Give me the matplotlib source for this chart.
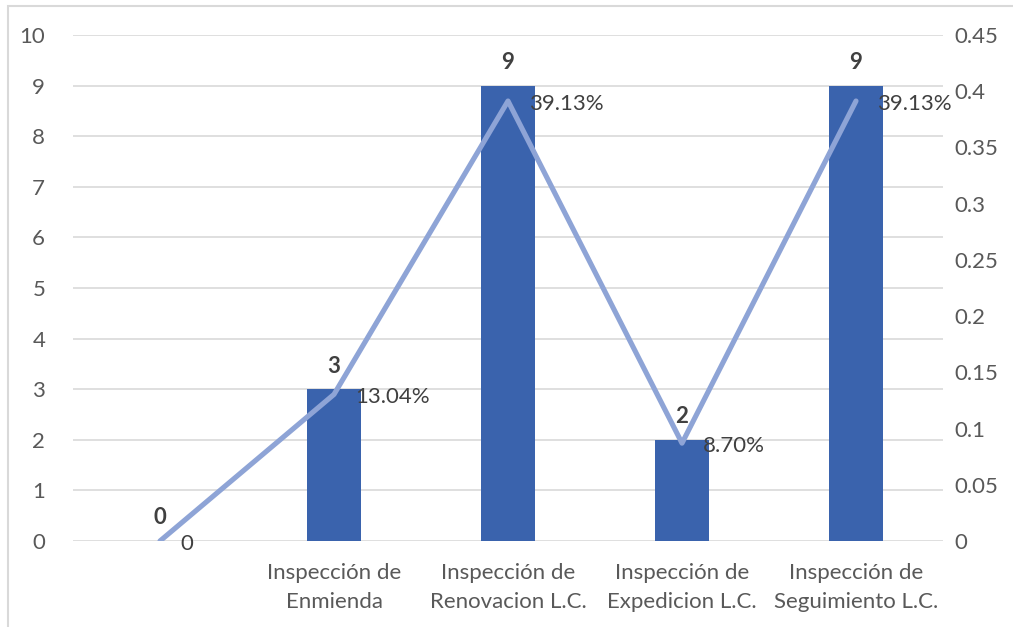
import matplotlib
matplotlib.use("Agg")
import matplotlib.pyplot as plt
from matplotlib.patches import Rectangle

categories = ["", "Inspección de\nEnmienda", "Inspección de\nRenovacion L.C.",
              "Inspección de\nExpedicion L.C.", "Inspección de\nSeguimiento L.C."]
counts = [0, 3, 9, 2, 9]
shares = [0, 0.1304, 0.3913, 0.0870, 0.3913]
share_labels = ["0", "13.04%", "39.13%", "8.70%", "39.13%"]
left_ticks = list(range(0, 11))
right_ticks = [0, 0.05, 0.1, 0.15, 0.2, 0.25, 0.3, 0.35, 0.4, 0.45]
right_tick_labels = ["0", "0.05", "0.1", "0.15", "0.2", "0.25", "0.3", "0.35", "0.4", "0.45"]

plt.rcParams['font.family'] = ['Lato', 'DejaVu Sans']
txt = "#595959"
bar_color = "#3A63AD"
line_color = "#8EA4D6"
fs = 16

fig = plt.figure(figsize=(10.13, 6.27), dpi=100)
W, H = 1013, 627
# outer border
fig.patches.append(Rectangle((8 / W, -0.2), 1.2, 1.2 - 6 / H, transform=fig.transFigure,
                             fill=False, edgecolor="#D9D9D9", linewidth=1.5))

ax = fig.add_axes([73 / W, 1 - 541 / H, 870 / W, 506 / H])
x = list(range(len(categories)))
ax.bar(x, counts, width=0.31, color=bar_color, zorder=2)
ax.set_xlim(-0.5, len(categories) - 0.5)
ax.set_ylim(0, 10)
ax.set_yticks(left_ticks)
ax.set_yticklabels([str(t) for t in left_ticks], fontsize=fs, color=txt)
ax.set_xticks(x)
ax.set_xticklabels(categories, fontsize=fs, color=txt, linespacing=1.55)
ax.tick_params(axis='both', length=0)
ax.tick_params(axis='y', pad=20)
ax.tick_params(axis='x', pad=16)
ax.grid(axis='y', color="#D9D9D9", linewidth=1.2, zorder=0)
ax.set_axisbelow(True)
for s in ax.spines.values():
    s.set_visible(False)
for xi, c in zip(x, counts):
    ax.annotate(str(c), (xi, c), xytext=(0, 9), textcoords='offset points',
                ha='center', va='bottom', fontsize=fs, fontweight='bold', color="#404040")

ax2 = ax.twinx()
ax2.plot(x, shares, color=line_color, linewidth=3.7, solid_capstyle='round', zorder=3)
ax2.set_ylim(0, 0.45)
ax2.set_yticks(right_ticks)
ax2.set_yticklabels(right_tick_labels, fontsize=fs, color=txt)
ax2.tick_params(axis='y', length=0, pad=8)
for s in ax2.spines.values():
    s.set_visible(False)
for xi, v, lab in zip(x, shares, share_labels):
    ax2.annotate(lab, (xi, v), xytext=(15, -2), textcoords='offset points',
                 ha='left', va='center', fontsize=fs, color="#404040")

fig.savefig("out.png", dpi=100)
